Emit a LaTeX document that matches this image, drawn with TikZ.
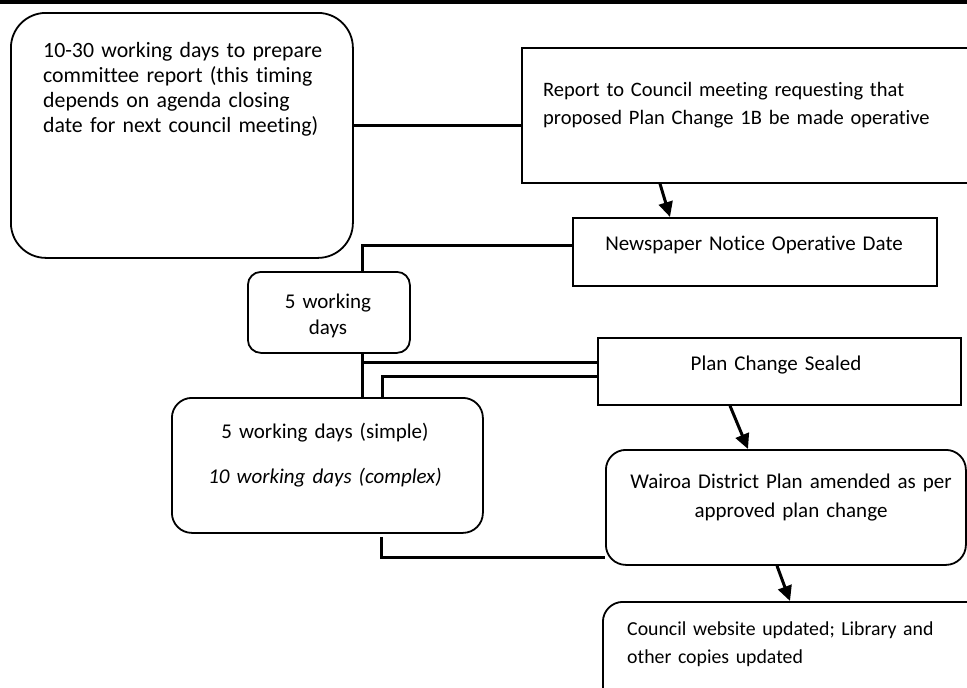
\documentclass[tikz,border=0pt]{standalone}
\usepackage{fontspec}
\setmainfont{Carlito}[Ligatures={NoCommon}]
\usetikzlibrary{arrows.meta}
\begin{document}
\begin{tikzpicture}[x=1pt,y=-1pt,
  box/.style={draw, line width=1.8pt, inner sep=0pt, anchor=north west},
  conn/.style={line width=3pt},
  arr/.style={line width=3pt, -{Triangle[length=15pt,width=14pt]}, shorten >=0pt},
  txtl/.style={inner sep=0pt, anchor=base west, align=left, font=\fontsize{21}{25}\selectfont},
  txtc/.style={inner sep=0pt, anchor=base, align=center, font=\fontsize{21}{26}\selectfont}]
\clip (0,0) rectangle (967,688);
\fill (0,0) rectangle (967,3.5);
% boxes
\node[box, rounded corners=35pt, minimum width=342pt, minimum height=245pt] (A) at (10,12) {};
\node[box, minimum width=470pt, minimum height=135pt] (B) at (521,47) {};
\node[box, minimum width=364pt, minimum height=68pt] (C) at (572,217) {};
\node[box, rounded corners=13pt, minimum width=162pt, minimum height=81pt] (D) at (247,271) {};
\node[box, minimum width=363pt, minimum height=67pt] (F) at (597,337) {};
\node[box, rounded corners=20pt, minimum width=311pt, minimum height=135pt] (E) at (171,397) {};
\node[box, rounded corners=20pt, minimum width=360pt, minimum height=115pt] (G) at (605,449) {};
\node[box, rounded corners=20pt, minimum width=400pt, minimum height=110pt] (H) at (602,601) {};
% texts
\node[txtl, text width=300pt, font=\fontsize{21.8}{25}\selectfont] (At) at (43,57) {10-30 working days to prepare\\committee report (this timing\\depends on agenda closing\\date for next council meeting)};
\node[txtl, text width=400pt, font=\fontsize{20.5}{28}\selectfont] (Bt) at (543,96) {Report to Council meeting requesting that\\proposed Plan Change 1B be made operative};
\node[txtc, text width=340pt] (Ct) at (754,250) {Newspaper Notice Operative Date};
\node[txtc, text width=150pt] (Dt) at (328,308) {5 working\\days};
\node[txtc, text width=340pt] (Ft) at (776,370) {Plan Change Sealed};
\node[txtc, text width=300pt, font=\fontsize{21}{45}\selectfont] (Et) at (325,438) {5 working days (simple)\\\textit{10 working days (complex)}};
\node[txtc, text width=350pt, font=\fontsize{21}{29}\selectfont] (Gt) at (791,488) {Wairoa District Plan amended as per\\approved plan change};
\node[txtl, text width=350pt, font=\fontsize{19.8}{28}\selectfont] (Ht) at (627,635) {Council website updated; Library and\\other copies updated};
% connector helper coordinates
\coordinate (a1) at ([yshift=-113pt]A.north east);
\coordinate (b1) at ([yshift=-78pt]B.north west);
\coordinate (c1) at ([yshift=-28pt]C.north west);
\coordinate (dt) at ([xshift=115pt]D.north west);
\coordinate (db) at ([xshift=115pt]D.south west);
\coordinate (et) at ([xshift=191pt]E.north west);
\coordinate (f1) at ([yshift=-25pt]F.north west);
\coordinate (f2) at ([yshift=-39pt]F.north west);
\coordinate (e2) at ([xshift=211pt,yshift=-2pt]E.north west);
\coordinate (e3) at ([xshift=210pt,yshift=-3pt]E.south west);
\coordinate (g1) at ([yshift=-108pt]G.north west);
% connectors
\draw[conn] (a1) -- (b1);
\draw[conn] (c1) -| (dt);
\draw[conn] (db) -- (et);
\draw[conn] (f1) -- (f1 -| db);
\draw[conn] (f2) -| (e2);
\draw[conn] (e3) |- (g1);
% arrows
\draw[arr] ([xshift=139pt]B.south west) -- ([xshift=98pt]C.north west);
\draw[arr] ([xshift=133pt]F.south west) -- ([xshift=143pt]G.north west);
\draw[arr] ([xshift=172pt]G.south west) -- ([xshift=188pt]H.north west);
\end{tikzpicture}
\end{document}
